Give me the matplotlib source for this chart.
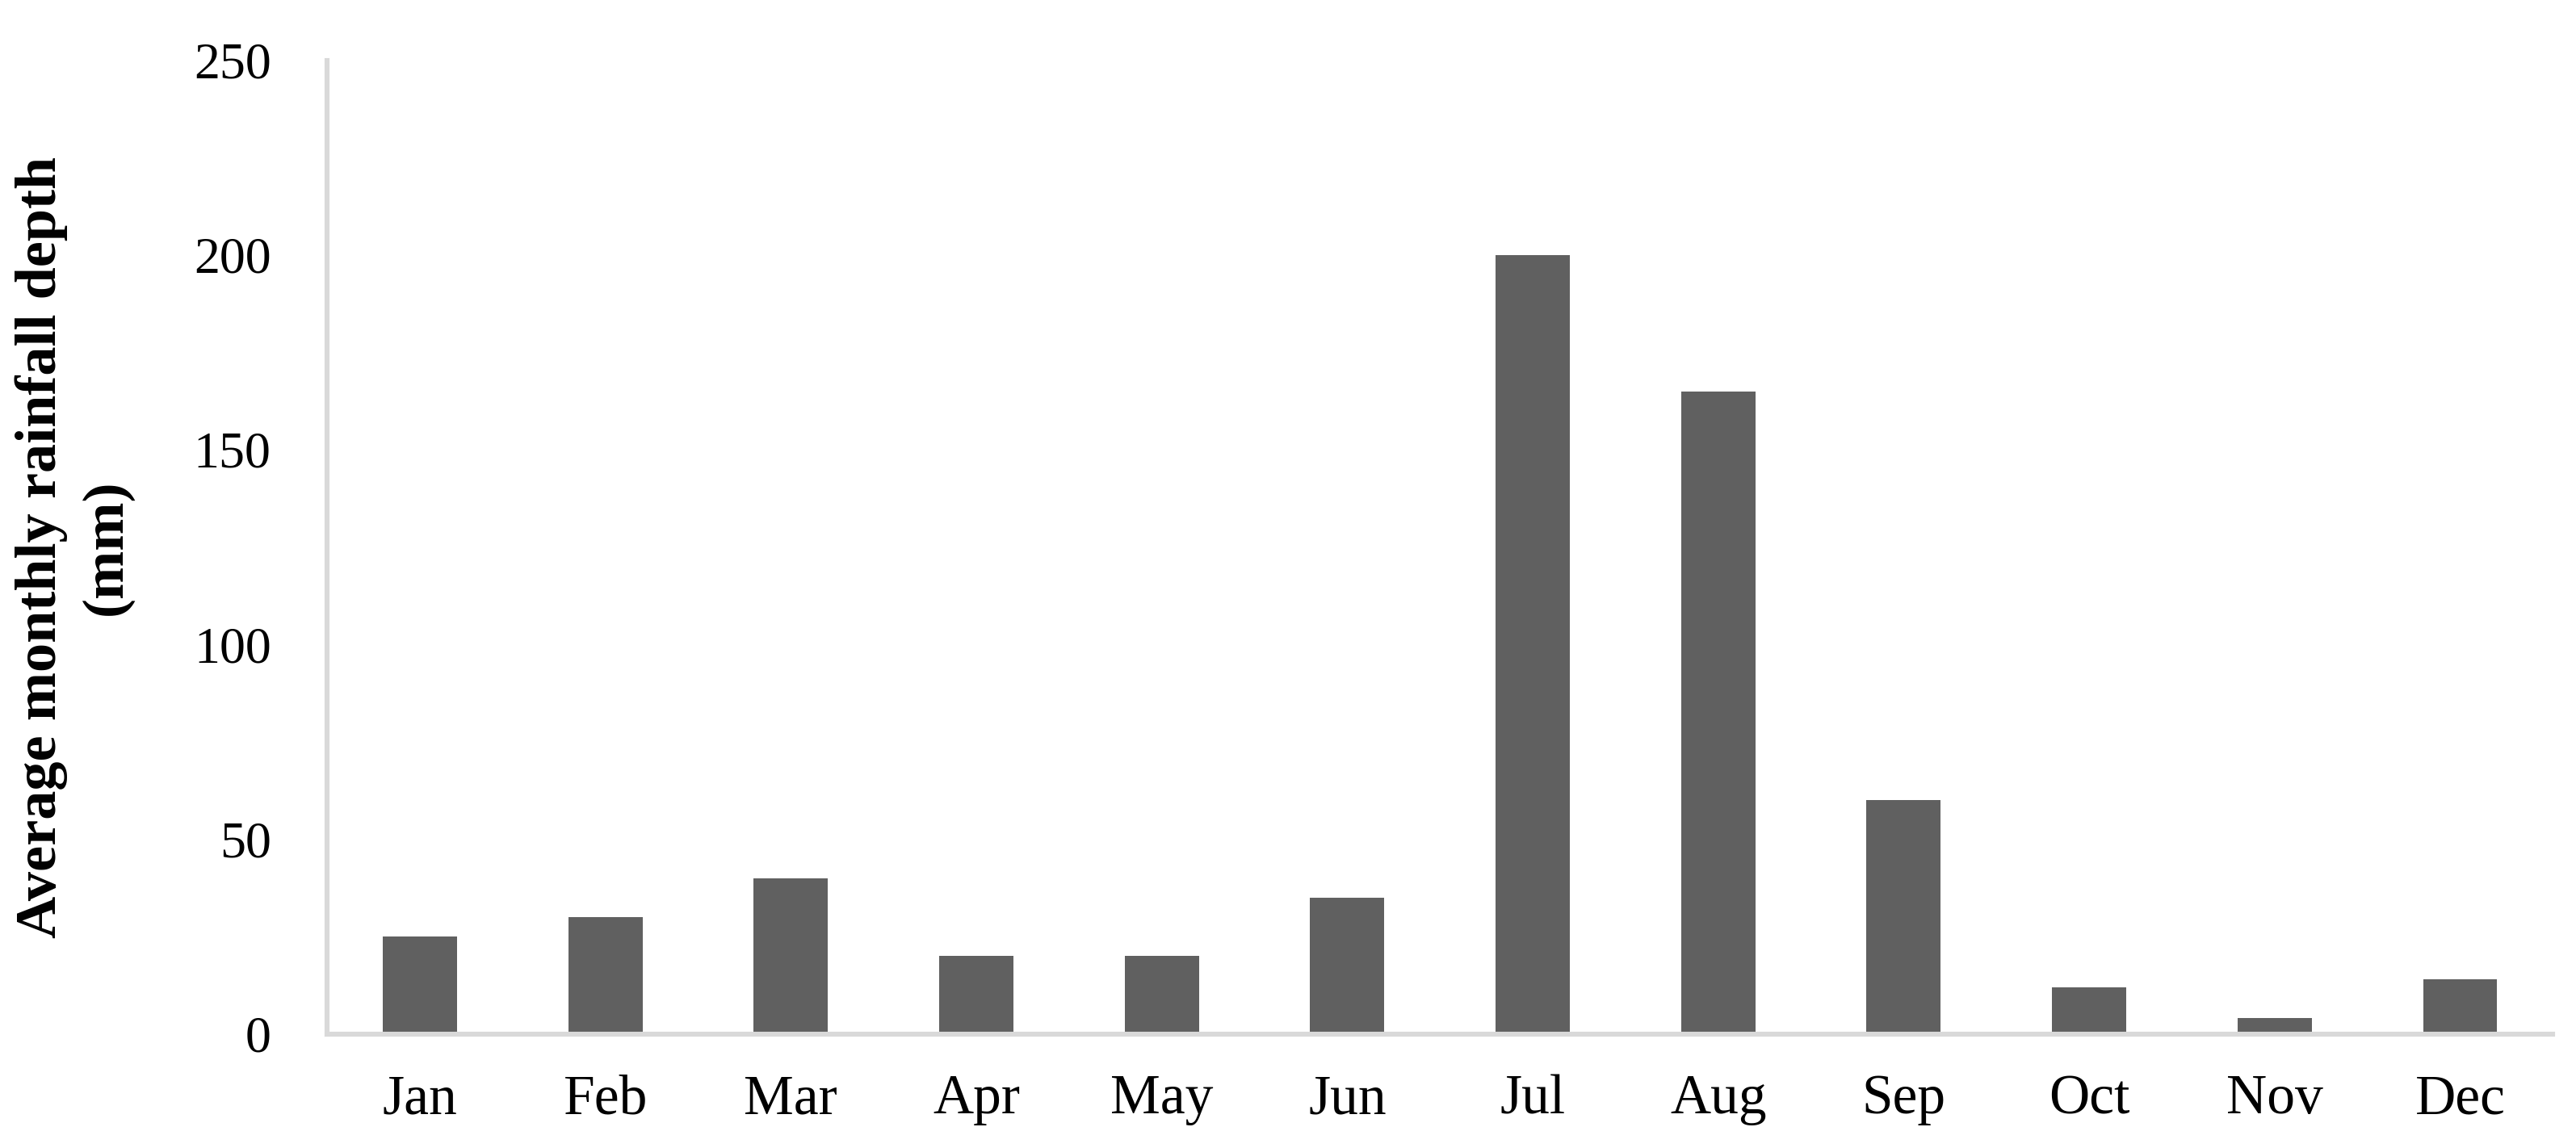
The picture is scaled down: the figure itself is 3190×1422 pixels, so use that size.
import matplotlib.pyplot as plt

months = ["Jan", "Feb", "Mar", "Apr", "May", "Jun",
          "Jul", "Aug", "Sep", "Oct", "Nov", "Dec"]
rainfall_mm = [25, 30, 40, 20, 20, 35, 200, 165, 60, 12, 4, 14]
y_ticks = [0, 50, 100, 150, 200, 250]

plt.rcParams["font.family"] = ["Liberation Serif", "DejaVu Serif"]

fig = plt.figure(figsize=(15.95, 7.11), dpi=200)
ax = fig.add_axes([0.127, 0.0995, 0.864, 0.848])

x = range(len(months))
ax.bar(x, rainfall_mm, width=0.4, color="#606060", zorder=2)

ax.set_xlim(-0.5, len(months) - 0.5)
ax.set_ylim(0, 250)
ax.set_yticks(y_ticks)
ax.set_xticks(list(x))
ax.set_xticklabels(months)
ax.tick_params(axis="both", length=0, colors="black")
ax.tick_params(axis="y", labelsize=23, pad=25)
ax.tick_params(axis="x", labelsize=25, pad=18)

for side in ["top", "right"]:
    ax.spines[side].set_visible(False)
for side in ["left", "bottom"]:
    ax.spines[side].set_color("#d9d9d9")
    ax.spines[side].set_linewidth(2.2)

ax.set_ylabel("Average monthly rainfall depth\n(mm)", fontsize=26,
              fontweight="bold", labelpad=27, linespacing=1.3)

fig.savefig("out.png", dpi=200, facecolor="white")
